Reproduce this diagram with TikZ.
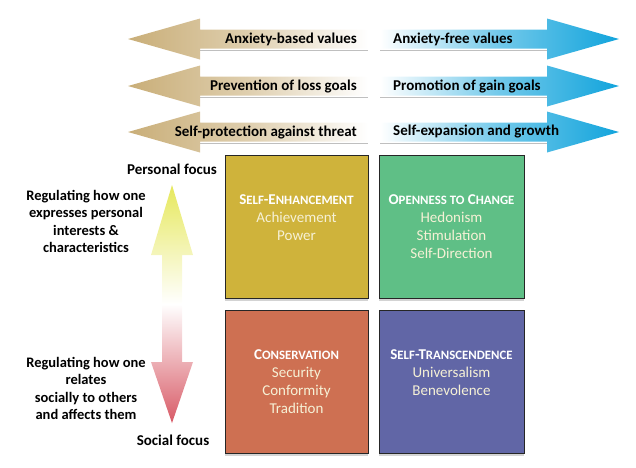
\documentclass[tikz,border=0pt]{standalone}
\usepackage{fontspec}
\setmainfont{Carlito}
\usetikzlibrary{shadows}
\definecolor{goldarrow}{HTML}{C9AE78}
\definecolor{bluearrow}{HTML}{12A4DC}
\definecolor{topyellow}{HTML}{E6E85C}
\definecolor{botred}{HTML}{D85A66}
\definecolor{seColor}{HTML}{CFB33B}
\definecolor{ocColor}{HTML}{5FBF86}
\definecolor{coColor}{HTML}{CE7052}
\definecolor{stColor}{HTML}{6166A6}
\definecolor{valtext}{HTML}{F6F1D6}
\newcommand\scA[2]{#1{\fontsize{12.8}{12}\selectfont #2}}
\tikzset{
  lbl/.style={font=\bfseries\fontsize{15}{17}\selectfont, text=black, inner sep=0pt},
  sidelbl/.style={font=\bfseries\fontsize{14.5}{17.5}\selectfont, text=black, align=center, inner sep=0pt},
  quad/.style={draw=black!85, line width=0.8pt, drop shadow={shadow xshift=0pt, shadow yshift=-3pt, opacity=0.35}},
  quadtext/.style={font=\fontsize{15}{18}\selectfont, text=valtext, align=center, inner sep=0pt},
  leftarrow/.style={left color=goldarrow, right color=white, middle color=goldarrow!60!white},
  rightarrow/.style={left color=white, right color=bluearrow, middle color=bluearrow!60!white},
}
\begin{document}
\begin{tikzpicture}[x=1pt,y=-1pt]
\useasboundingbox (0,0) rectangle (636,467);
% horizontal arrows
\foreach \cy in {39,86,132}{
  \fill[black!25] (200,\cy+10.5) -- (368,\cy+10.5) -- (368,\cy+11.5) -- (200,\cy+11.5) -- cycle;
  \shade[leftarrow] (128,\cy) -- (200,\cy-20.5) -- (200,\cy-9.5) -- (368,\cy-9.5) -- (368,\cy+9.5) -- (200,\cy+9.5) -- (200,\cy+20.5) -- cycle;
  \fill[black!25] (380,\cy+10.5) -- (547,\cy+10.5) -- (547,\cy+11.5) -- (380,\cy+11.5) -- cycle;
  \shade[rightarrow] (619,\cy) -- (547,\cy-20.5) -- (547,\cy-9.5) -- (380,\cy-9.5) -- (380,\cy+9.5) -- (547,\cy+9.5) -- (547,\cy+20.5) -- cycle;
}
\node[lbl, anchor=east] (l1) at (357,39) {Anxiety-based values};
\node[lbl, anchor=east] (l2) at (357,86) {Prevention of loss goals};
\node[lbl, anchor=east] (l3) at (357,132) {Self-protection against threat};
\node[lbl, anchor=west] (r1) at (393,39) {Anxiety-free values};
\node[lbl, anchor=west] (r2) at (393,86) {Promotion of gain goals};
\node[lbl, anchor=west] (r3) at (393,132) {Self-expansion and growth};
% vertical double arrow
\shade[top color=topyellow, bottom color=botred, middle color=white]
  (172,185) -- (193,255) -- (182,255) -- (182,362) -- (193,362) -- (172,423)
  -- (151,362) -- (162,362) -- (162,255) -- (151,255) -- cycle;
\node[lbl] (pf) at (172,169) {Personal focus};
\node[lbl] (sf) at (173,440) {Social focus};
\node[sidelbl] (up) at (86,221.5) {Regulating how one\\expresses personal\\interests \&\\characteristics};
\node[sidelbl] (down) at (86,388.5) {Regulating how one\\relates\\socially to others\\and affects them};
% quadrants
\path[quad, fill=seColor] (225,155) rectangle (368,298);
\path[quad, fill=ocColor] (379,155) rectangle (524,298);
\path[quad, fill=coColor] (225,310) rectangle (368,453);
\path[quad, fill=stColor] (379,310) rectangle (524,453);
\node[quadtext] (se) at (296.5,218) {\textcolor{white}{\bfseries\scA{S}{ELF}-\scA{E}{NHANCEMENT}}\\Achievement\\Power};
\node[quadtext] (oc) at (451.5,226.5) {\textcolor{white}{\bfseries\scA{O}{PENNESS TO} \scA{C}{HANGE}}\\Hedonism\\Stimulation\\Self-Direction};
\node[quadtext] (co) at (296.5,381.5) {\textcolor{white}{\bfseries\scA{C}{ONSERVATION}}\\Security\\Conformity\\Tradition};
\node[quadtext] (st) at (451.5,373) {\textcolor{white}{\bfseries\scA{S}{ELF}-\scA{T}{RANSCENDENCE}}\\Universalism\\Benevolence};
\end{tikzpicture}
\end{document}
